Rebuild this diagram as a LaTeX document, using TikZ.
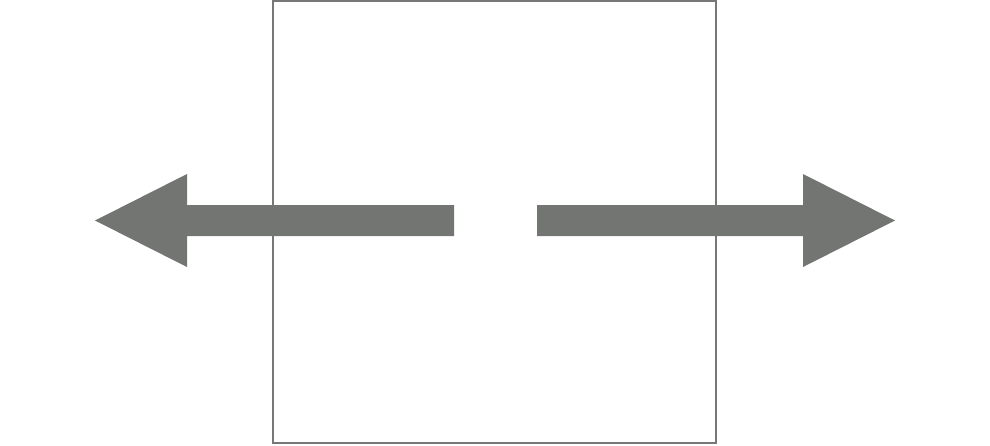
\documentclass[tikz,border=0pt]{standalone}
\begin{document}
\begin{tikzpicture}[x=1pt,y=-1pt,
  boxstyle/.style={draw=boxgray,line width=2pt,fill=none,inner sep=0pt,minimum width=443pt,minimum height=442pt},
  arrowfill/.style={fill=arrowgray,draw=none}]
\definecolor{boxgray}{HTML}{777777}
\definecolor{arrowgray}{HTML}{737572}
\useasboundingbox (0,0) rectangle (990,445);
\node[boxstyle] (box) at (494.5,222) {};
\fill[arrowfill] (454,205) -- (187,205) -- (187,174) -- (95,220.5) -- (187,267) -- (187,236) -- (454,236) -- cycle;
\fill[arrowfill] (537,205) -- (803,205) -- (803,174) -- (895,220.5) -- (803,267) -- (803,236) -- (537,236) -- cycle;
\end{tikzpicture}
\end{document}
